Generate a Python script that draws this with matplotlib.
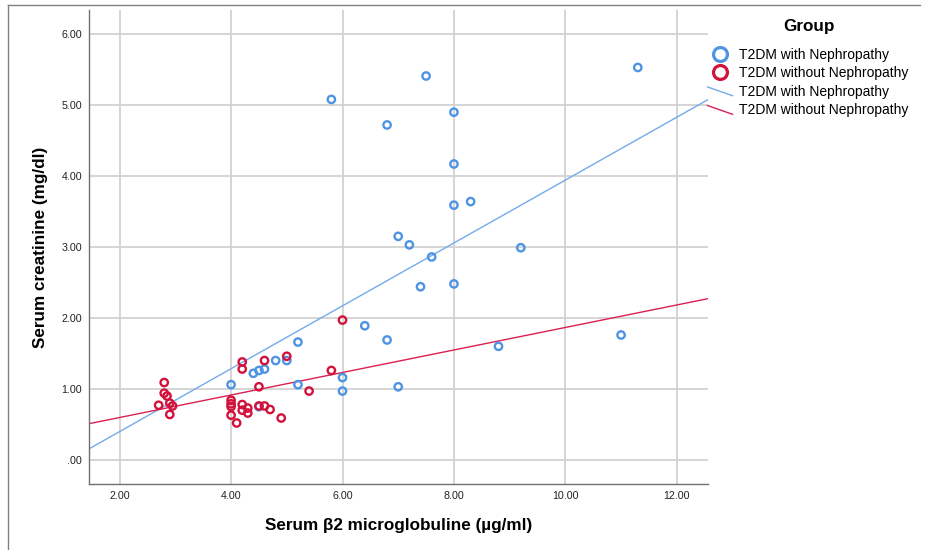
import matplotlib
matplotlib.use("Agg")
from matplotlib import pyplot as plt
from matplotlib.lines import Line2D
from matplotlib.legend_handler import HandlerBase
from matplotlib.ticker import FuncFormatter

plt.rcParams["font.family"] = ["Liberation Sans", "DejaVu Sans"]

# T2DM with Nephropathy
with_x = [11.3, 7.5, 5.8, 6.8, 8.0, 8.0, 8.0, 8.3, 7.0, 7.2, 7.6, 7.4, 8.0, 9.2, 6.4,
          6.8, 8.8, 11.0, 5.2, 4.8, 5.0, 5.2, 6.0, 6.0, 7.0, 4.0, 4.4, 4.5, 4.6, 4.5]
with_y = [5.53, 5.41, 5.08, 4.72, 4.90, 4.17, 3.59, 3.64, 3.15, 3.03, 2.86, 2.44, 2.48, 2.99, 1.89,
          1.69, 1.60, 1.76, 1.66, 1.40, 1.40, 1.06, 1.16, 0.97, 1.03, 1.06, 1.22, 1.26, 1.28, 0.75]

# T2DM without Nephropathy
without_x = [2.8, 2.8, 2.85, 2.7, 2.9, 2.95, 2.9, 4.0, 4.0, 4.0, 4.0, 4.1, 4.2, 4.2,
             4.2, 4.2, 4.3, 4.3, 4.5, 4.5, 4.6, 4.6, 4.7, 4.9, 5.0, 5.4, 5.8, 6.0]
without_y = [1.09, 0.94, 0.90, 0.77, 0.80, 0.76, 0.64, 0.84, 0.79, 0.75, 0.63, 0.52, 1.38, 1.28,
             0.78, 0.70, 0.73, 0.66, 1.03, 0.76, 1.40, 0.76, 0.71, 0.59, 1.46, 0.97, 1.26, 1.97]

# fit lines (intercept, slope)
with_fit = (-0.487, 0.443)
without_fit = (0.28, 0.1586)

groups = ["T2DM with Nephropathy", "T2DM without Nephropathy"]
blue = "#4F94E3"
red = "#D3123C"
blue_line = "#73AAEA"
red_line = "#DA2050"


class SlantHandler(HandlerBase):
    def create_artists(self, legend, orig_handle, xdescent, ydescent, width, height, fontsize, trans):
        line = Line2D([-xdescent, -xdescent + width], [height * 0.9, height * 0.0],
                      color=orig_handle.get_color(), lw=orig_handle.get_linewidth(), transform=trans)
        return [line]


fig = plt.figure(figsize=(9.26, 5.5), dpi=100)
ax = fig.add_axes([89 / 926, 1 - 484 / 550, (708 - 89) / 926, (484 - 10) / 550])

ax.axline((0, with_fit[0]), slope=with_fit[1], color=blue_line, lw=1.0, zorder=2)
ax.axline((0, without_fit[0]), slope=without_fit[1], color=red_line, lw=1.0, zorder=2)
ax.scatter(with_x, with_y, s=28, facecolors="none", edgecolors=blue, linewidths=1.7, zorder=3)
ax.scatter(without_x, without_y, s=28, facecolors="none", edgecolors=red, linewidths=1.7, zorder=4)

ax.set_xlim(1.45, 12.56)
ax.set_ylim(-0.34, 6.34)
ax.set_xticks([2, 4, 6, 8, 10, 12])
ax.set_yticks([0, 1, 2, 3, 4, 5, 6])
fmt = FuncFormatter(lambda v, p: ".00" if abs(v) < 1e-9 else f"{v:.2f}")
ax.xaxis.set_major_formatter(fmt)
ax.yaxis.set_major_formatter(fmt)
ax.tick_params(length=0, labelsize=7.7, colors="#222222", pad=5)
ax.grid(True, color="#D2D2D2", lw=1.3, zorder=0)
ax.set_axisbelow(True)
for side in ["top", "right"]:
    ax.spines[side].set_visible(False)
for side in ["left", "bottom"]:
    ax.spines[side].set_color("#707070")
    ax.spines[side].set_linewidth(1.0)

ax.set_xlabel("Serum \u03b22 microglobuline (\u00b5g/ml)", fontsize=12.3, fontweight="bold", labelpad=12)
ax.set_ylabel("Serum creatinine (mg/dl)", fontsize=12.3, fontweight="bold", labelpad=10)

handles = [
    Line2D([], [], marker="o", ls="none", markersize=10, markerfacecolor="none",
           markeredgecolor=blue, markeredgewidth=2.3),
    Line2D([], [], marker="o", ls="none", markersize=10, markerfacecolor="none",
           markeredgecolor=red, markeredgewidth=2.3),
    Line2D([], [], color=blue_line, lw=1.0),
    Line2D([], [], color=red_line, lw=1.0),
]
labels = groups + groups
fig.text(809 / 926, 1 - 27 / 550, "Group", ha="center", va="center", fontsize=12.3, fontweight="bold")
leg = fig.legend(handles, labels, loc="upper left", bbox_to_anchor=(702 / 926, 1 - 42 / 550),
                 frameon=False, fontsize=10, borderaxespad=0,
                 handlelength=1.8, handletextpad=0.43, labelspacing=0.33,
                 handler_map={handles[2]: SlantHandler(), handles[3]: SlantHandler()})

# outer frame (left and top edges)
fig.add_artist(Line2D([8 / 926, 8 / 926], [0, 1 - 5 / 550], color="#808080", lw=1.0, transform=fig.transFigure))
fig.add_artist(Line2D([8 / 926, 920 / 926], [1 - 5 / 550, 1 - 5 / 550], color="#808080", lw=1.0, transform=fig.transFigure))

fig.savefig("out.png", dpi=100)
